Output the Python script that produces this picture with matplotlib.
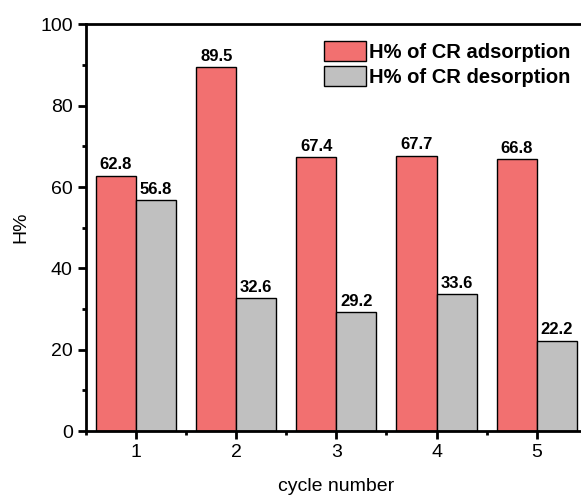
import matplotlib.pyplot as plt
import numpy as np
from matplotlib.ticker import MultipleLocator

plt.rcParams['font.family'] = ['Liberation Sans', 'DejaVu Sans']

cycles = [1, 2, 3, 4, 5]
adsorption = [62.8, 89.5, 67.4, 67.7, 66.8]
desorption = [56.8, 32.6, 29.2, 33.6, 22.2]
labels = ["H% of CR adsorption", "H% of CR desorption"]

fig = plt.figure(figsize=(5.81, 4.98), dpi=100)
ax = fig.add_axes([0.148, 0.1345, 0.862, 0.8165])

x = np.array(cycles)
w = 0.4
b1 = ax.bar(x - w / 2, adsorption, w, color="#F27070", edgecolor="black", linewidth=1, label=labels[0])
b2 = ax.bar(x + w / 2, desorption, w, color="#C0C0C0", edgecolor="black", linewidth=1, label=labels[1])

for bars in (b1, b2):
    for r in bars:
        ax.text(r.get_x() + r.get_width() / 2, r.get_height() + 0.8, f"{r.get_height():.1f}",
                ha="center", va="bottom", fontsize=12, fontweight="bold")

ax.set_xlim(0.5, 5.5)
ax.set_ylim(0, 100)
ax.set_xticks(cycles)
ax.xaxis.set_minor_locator(MultipleLocator(0.5))
ax.yaxis.set_major_locator(MultipleLocator(20))
ax.yaxis.set_minor_locator(MultipleLocator(10))
ax.tick_params(which="major", direction="out", length=6, width=2, labelsize=14)
ax.tick_params(which="minor", direction="out", length=3, width=2)
for s in ax.spines.values():
    s.set_linewidth(2)

ax.set_xlabel("cycle number", fontsize=14, labelpad=12)
ax.set_ylabel("H%", fontsize=14, labelpad=8)

ax.legend(loc="upper right", bbox_to_anchor=(0.968, 0.958), frameon=False,
          prop={"size": 14.5, "weight": "bold"}, handlelength=2.1, handleheight=1.15,
          handletextpad=0.15, labelspacing=0.2, borderaxespad=0, borderpad=0)

fig.savefig("out.png", dpi=100)
